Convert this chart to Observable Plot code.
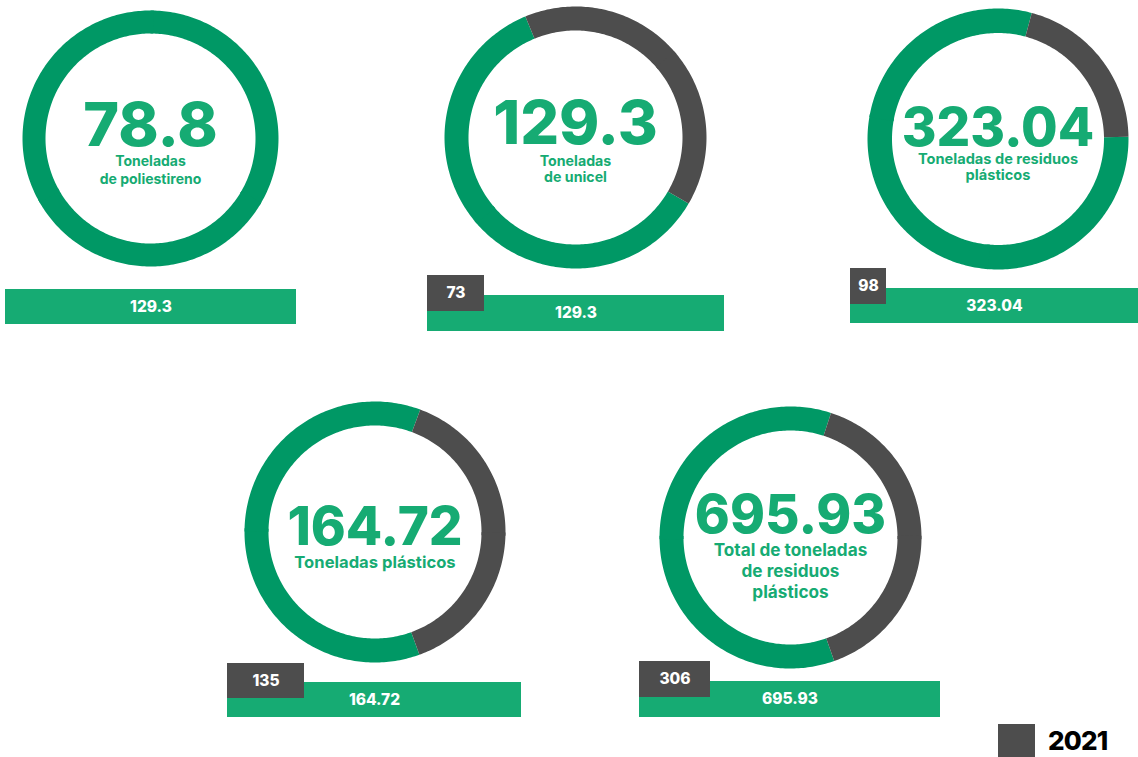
<!DOCTYPE html>
<html>
<head>
<meta charset="utf-8">
<script src="https://cdn.jsdelivr.net/npm/d3@7"></script>
<script src="https://cdn.jsdelivr.net/npm/@observablehq/plot@0.6"></script>
<style>
  body { margin: 0; background: #ffffff; }
  #root { position: relative; width: 1138px; height: 757px; overflow: hidden; font-family: Inter, "Noto Sans", sans-serif; background: #fff; }
  #root svg { position: absolute; background: transparent; }
  .legend { position: absolute; left: 998px; top: 724px; height: 33px; display: flex; align-items: center; }
  .legend .sw { width: 37px; height: 33px; background: #4d4d4d; }
  .legend .lb { margin-left: 13px; font-size: 26px; font-weight: 800; color: #000; letter-spacing: -0.8px; }
</style>
</head>
<body>
<div id="root"></div>
<script>
// ---------- data ----------
const totales = [78.8, 129.3, 323.04, 164.72, 695.93];
const etiquetas = [
  "Toneladas\nde poliestireno",
  "Toneladas\nde unicel",
  "Toneladas de residuos\nplásticos",
  "Toneladas plásticos",
  "Total de toneladas\nde residuos\nplásticos"
];
const barraActual = [129.3, 129.3, 323.04, 164.72, 695.93];
const barra2021 = [null, 73, 98, 135, 306];
// part of each ring drawn in grey (2021), degrees clockwise from the top
const grisInicio = [null, -22.5, 15, 20.3, 18];
const grisFin = [null, 120.3, 89, 160.1, 160.5];
const series = ["Actual", "2021"];
const leyenda = ["2021"];

// ---------- styles / layout ----------
const GREEN_RING = "#009865";
const GREEN = "#16ab73";
const GRAY = "#4d4d4d";
const layout = [
  {cx: 150,   cy: 138,   r: 128,   ring: 23,   nfs: 61, nb: 7,   lfs: 14,   llh: 17.6, lb: 27.7,
   bar: {x: 5,   y: 289, w: 291, h: 35}, tag: null},
  {cx: 575,   cy: 137,   r: 131,   ring: 24,   nfs: 61, nb: 6,   lfs: 14.2, llh: 17,   lb: 28,
   bar: {x: 427, y: 295, w: 297, h: 36}, tag: {y: 275, w: 57, h: 36}},
  {cx: 997.5, cy: 138.5, r: 130.5, ring: 24.5, nfs: 53, nb: 6.5, lfs: 14.6, llh: 16.7, lb: 24.8,
   bar: {x: 850, y: 288, w: 288, h: 35}, tag: {y: 268, w: 36, h: 36}},
  {cx: 374,   cy: 531,   r: 130.5, ring: 24,   nfs: 53, nb: 13,  lfs: 16.6, llh: 19,   lb: 35.7,
   bar: {x: 227, y: 682, w: 294, h: 35}, tag: {y: 663, w: 77, h: 35}},
  {cx: 790,   cy: 536.5, r: 131,   ring: 24,   nfs: 53, nb: -5,  lfs: 17.2, llh: 21,   lb: 18.7,
   bar: {x: 639, y: 681, w: 301, h: 36}, tag: {y: 661, w: 71, h: 36}}
];

const root = document.getElementById("root");

// annular sector on a sphere viewed from the pole (azimuthal equidistant)
function sector(t0, t1, latIn, serie) {
  const lo = 180 - t1, hi = 180 - t0;
  const n = Math.max(2, Math.ceil(hi - lo));
  const ring = [];
  for (let k = 0; k <= n; k++) ring.push([lo + (hi - lo) * k / n, latIn]);
  for (let k = n; k >= 0; k--) ring.push([lo + (hi - lo) * k / n, 0]);
  ring.push(ring[0]);
  return {type: "Feature", properties: {serie}, geometry: {type: "Polygon", coordinates: [ring]}};
}
function segmentos(i) {
  const out = [];
  const push = (serie, a, b, closed) => {
    const steps = Math.ceil((b - a) / 120);
    for (let s = 0; s < steps; s++) {
      const t0 = a + (b - a) * s / steps;
      const t1 = a + (b - a) * (s + 1) / steps + (s < steps - 1 || closed ? 1.5 : 0); // overlap hides seams
      out.push({serie, t0, t1});
    }
  };
  if (grisInicio[i] == null) push("Actual", 0, 360, true);
  else {
    push("Actual", grisFin[i], grisInicio[i] + 360, false);
    push("2021", grisInicio[i], grisFin[i], false);
  }
  return out;
}

totales.forEach((tot, i) => {
  const L = layout[i];
  const size = 2 * L.r;
  const latIn = 90 - 90 * (L.r - L.ring) / L.r;
  const feats = segmentos(i).map(s => sector(s.t0, s.t1, latIn, s.serie));
  const lh = L.llh / L.lfs;
  const donut = Plot.plot({
    width: size, height: size, margin: 0,
    style: {background: "transparent", fontFamily: "Inter, sans-serif", overflow: "visible"},
    projection: {type: "azimuthal-equidistant", rotate: [0, -90], inset: 0,
                 domain: d3.geoCircle().center([0, 90]).radius(90)()},
    color: {domain: series, range: [GREEN_RING, GRAY]},
    marks: [
      Plot.geo(feats, {fill: d => d.properties.serie}),
      Plot.text([tot], {text: d => String(d), frameAnchor: "middle", lineAnchor: "bottom", dy: L.nb,
                        fontSize: L.nfs, fontWeight: 800, fill: GREEN, letterSpacing: -2.6}),
      Plot.text([etiquetas[i]], {text: d => d, frameAnchor: "middle", lineAnchor: "top", lineHeight: lh,
                        dy: L.lb - 0.71 * lh * L.lfs, fontSize: L.lfs, fontWeight: 700, fill: GREEN})
    ]
  });
  donut.style.left = (L.cx - L.r) + "px";
  donut.style.top = (L.cy - L.r) + "px";
  root.appendChild(donut);

  // bar + 2021 tag
  const B = L.bar, T = L.tag;
  const top = T ? Math.min(T.y, B.y) : B.y;
  const H = B.y + B.h - top;
  const rects = [{serie: "Actual", x1: 0, x2: B.w, y1: B.y - top, y2: B.y - top + B.h, label: String(barraActual[i])}];
  if (T) rects.push({serie: "2021", x1: 0, x2: T.w, y1: T.y - top, y2: T.y - top + T.h, label: String(barra2021[i])});
  const bars = Plot.plot({
    width: B.w, height: H, margin: 0,
    style: {background: "transparent", fontFamily: "Inter, sans-serif", overflow: "visible"},
    x: {domain: [0, B.w], range: [0, B.w], axis: null},
    y: {domain: [0, H], range: [0, H], axis: null},
    color: {domain: series, range: [GREEN, GRAY]},
    marks: [
      Plot.rect(rects, {x1: "x1", x2: "x2", y1: "y1", y2: "y2", fill: "serie"}),
      Plot.text(rects, {x: d => (d.x1 + d.x2) / 2, y: d => (d.y1 + d.y2) / 2, text: "label",
                        fill: "white", fontSize: 15.5, fontWeight: 800})
    ]
  });
  bars.style.left = B.x + "px";
  bars.style.top = top + "px";
  root.appendChild(bars);
});

// legend
const lg = document.createElement("div");
lg.className = "legend";
lg.innerHTML = `<div class="sw"></div><div class="lb">${leyenda[0]}</div>`;
root.appendChild(lg);
</script>
</body>
</html>
